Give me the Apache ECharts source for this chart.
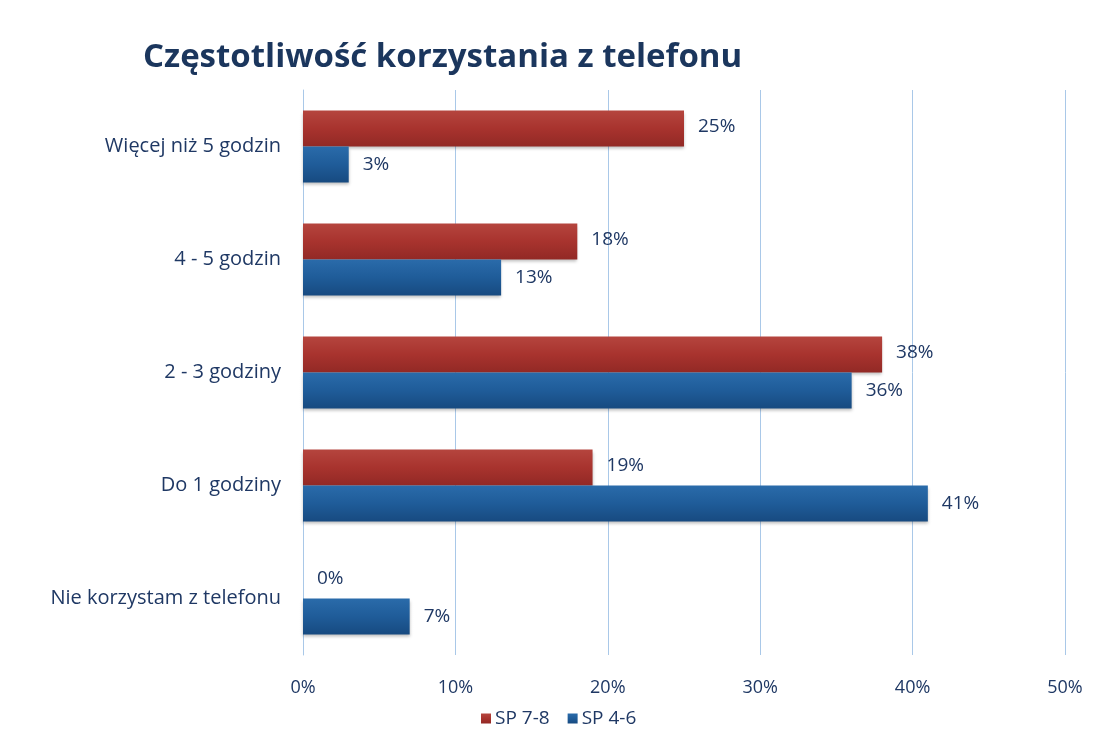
<!DOCTYPE html>
<html><head><meta charset="utf-8">
<script src="https://cdn.jsdelivr.net/npm/echarts@6/dist/echarts.min.js"></script>
<style>html,body{margin:0;padding:0;background:#fff}#c{width:1099px;height:751px}</style>
</head><body><div id="c"></div>
<script>
const categories = ['Więcej niż 5 godzin', '4 - 5 godzin', '2 - 3 godziny', 'Do 1 godziny', 'Nie korzystam z telefonu'];
const seriesNames = ['SP 7-8', 'SP 4-6'];
const sp78 = [25, 18, 38, 19, 0];
const sp46 = [3, 13, 36, 41, 7];
const xTicks = [0, 10, 20, 30, 40, 50];

const FONT = '"Liberation Sans Narrow", "Open Sans", "Noto Sans", sans-serif';
const TXT = '#1F3864';
function grad(c1, c2, c3) {
  return new echarts.graphic.LinearGradient(0, 0, 0, 1, [
    {offset: 0, color: c1}, {offset: 0.5, color: c2}, {offset: 1, color: c3}
  ]);
}
const chart = echarts.init(document.getElementById('c'));
chart.setOption({
  animation: false,
  backgroundColor: '#fff',
  title: {
    text: 'Częstotliwość korzystania z telefonu',
    left: 138, top: 36,
    textStyle: {fontFamily: FONT, fontSize: 33, fontWeight: 'bold', color: '#1B365D'}
  },
  legend: {
    data: seriesNames,
    bottom: 18, left: 476,
    itemWidth: 10, itemHeight: 10, itemGap: 18,
    icon: 'rect',
    textStyle: {fontFamily: FONT, fontSize: 19, color: TXT, padding: [0, 0, 0, -1]}
  },
  grid: {left: 303, right: 34, top: 90, bottom: 96, containLabel: false},
  xAxis: {
    type: 'value', min: xTicks[0], max: xTicks[xTicks.length - 1], interval: 10,
    axisLine: {show: false}, axisTick: {show: false},
    splitLine: {show: true, lineStyle: {color: '#A9C8E8', width: 1}},
    axisLabel: {formatter: v => v + '%', fontFamily: FONT, fontSize: 18, color: TXT, margin: 24}
  },
  yAxis: {
    type: 'category', data: categories, inverse: true,
    axisLine: {show: true, lineStyle: {color: '#A9C8E8'}},
    axisTick: {show: false},
    axisLabel: {fontFamily: FONT, fontSize: 20, color: TXT, margin: 22}
  },
  series: [
    {
      name: seriesNames[0], type: 'bar', data: sp78,
      barWidth: 36, barGap: '0%',
      itemStyle: {color: grad('#B5453E', '#A8332E', '#922925'), shadowColor: 'rgba(0,0,0,0.25)', shadowBlur: 3, shadowOffsetY: 2},
      label: {show: true, position: 'right', distance: 14, offset: [0, -2], formatter: p => p.value + '%', fontFamily: FONT, fontSize: 19, color: TXT}
    },
    {
      name: seriesNames[1], type: 'bar', data: sp46,
      barWidth: 36, barGap: '0%',
      itemStyle: {color: grad('#2A6BAA', '#1F5C99', '#174A80'), shadowColor: 'rgba(0,0,0,0.25)', shadowBlur: 3, shadowOffsetY: 2},
      label: {show: true, position: 'right', distance: 14, offset: [0, 0], formatter: p => p.value + '%', fontFamily: FONT, fontSize: 19, color: TXT}
    }
  ]
});
</script></body></html>
